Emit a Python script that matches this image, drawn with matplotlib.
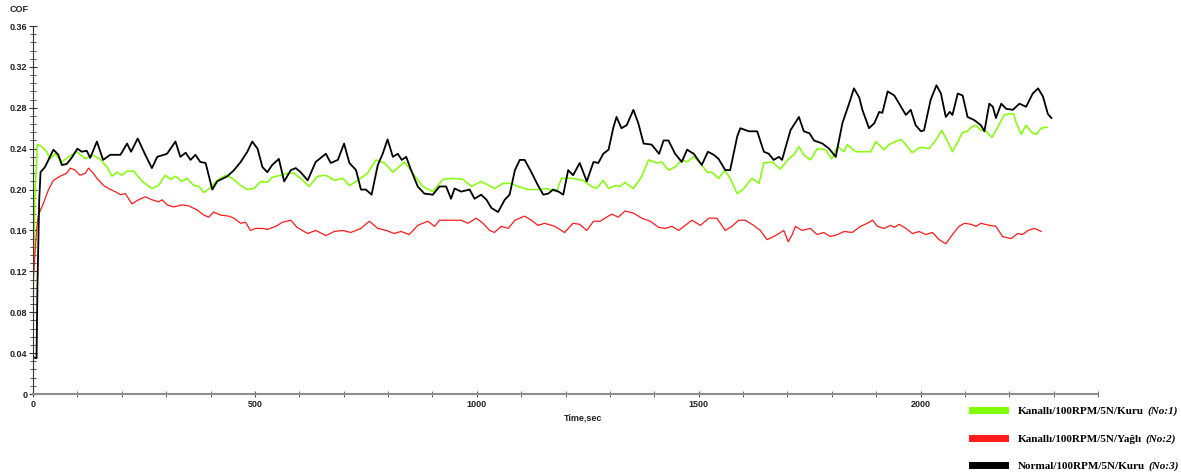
import numpy as np
from matplotlib import pyplot as plt
from matplotlib.ticker import MultipleLocator, FuncFormatter

# values (time in sec, friction coefficient)
t_green = [0, 4, 10, 20, 31, 38, 50, 65, 80, 99, 118, 133, 151, 167, 178, 189, 200, 212, 227,
           246, 268, 283, 298, 310, 321, 336, 347, 362, 374, 385, 400, 415, 434, 449, 468, 483,
           498, 513, 528, 539, 558, 573, 588, 603, 622, 641, 660, 679, 698, 713, 732, 754, 773,
           792, 811, 837, 856, 878, 901, 924, 946, 969, 988, 1010, 1040, 1059, 1078, 1093, 1116,
           1138, 1157, 1180, 1191, 1214, 1240, 1255, 1270, 1285, 1297, 1312, 1323, 1334, 1353,
           1372, 1387, 1406, 1417, 1432, 1447, 1462, 1474, 1489, 1504, 1519, 1530, 1545, 1559,
           1571, 1587, 1602, 1620, 1636, 1647, 1666, 1684, 1703, 1715, 1726, 1737, 1752, 1767,
           1786, 1800, 1813, 1828, 1835, 1854, 1869, 1888, 1899, 1918, 1929, 1944, 1956, 1967,
           1981, 1997, 2008, 2019, 2034, 2048, 2061, 2072, 2084, 2095, 2106, 2114, 2125, 2136,
           2148, 2161, 2174, 2189, 2201, 2210, 2216, 2227, 2238, 2250, 2261, 2272, 2285]
cof_green = [0.076, 0.193, 0.244, 0.242, 0.237, 0.230, 0.235, 0.227, 0.232, 0.237, 0.230, 0.234,
             0.230, 0.222, 0.213, 0.217, 0.214, 0.218, 0.218, 0.208, 0.201, 0.204, 0.214, 0.210,
             0.213, 0.208, 0.211, 0.204, 0.203, 0.197, 0.202, 0.209, 0.214, 0.211, 0.204, 0.200,
             0.201, 0.208, 0.207, 0.212, 0.214, 0.216, 0.216, 0.211, 0.203, 0.213, 0.214, 0.209,
             0.211, 0.204, 0.209, 0.216, 0.229, 0.226, 0.217, 0.227, 0.216, 0.203, 0.198, 0.210,
             0.211, 0.210, 0.203, 0.208, 0.201, 0.206, 0.206, 0.203, 0.200, 0.200, 0.201, 0.198,
             0.211, 0.211, 0.209, 0.204, 0.201, 0.209, 0.201, 0.204, 0.203, 0.207, 0.201, 0.213,
             0.229, 0.226, 0.227, 0.219, 0.222, 0.229, 0.227, 0.232, 0.226, 0.217, 0.217, 0.211,
             0.219, 0.211, 0.196, 0.201, 0.211, 0.206, 0.226, 0.227, 0.220, 0.230, 0.234, 0.242,
             0.234, 0.229, 0.240, 0.239, 0.230, 0.242, 0.237, 0.244, 0.237, 0.237, 0.237, 0.247,
             0.239, 0.244, 0.247, 0.249, 0.244, 0.236, 0.241, 0.241, 0.240, 0.248, 0.258, 0.247,
             0.237, 0.247, 0.256, 0.257, 0.261, 0.263, 0.258, 0.257, 0.251, 0.261, 0.273, 0.274,
             0.274, 0.265, 0.254, 0.263, 0.256, 0.254, 0.260, 0.261]

t_red = [0, 4, 8, 12, 23, 35, 46, 61, 76, 84, 95, 106, 118, 125, 136, 144, 159, 170, 185, 197,
         208, 223, 238, 253, 268, 283, 291, 302, 317, 336, 351, 370, 385, 396, 407, 423, 441, 453,
         468, 479, 490, 502, 517, 528, 547, 562, 581, 595, 619, 637, 660, 679, 698, 716, 739, 758,
         777, 796, 814, 829, 848, 867, 890, 905, 916, 942, 965, 980, 999, 1014, 1029, 1040, 1055,
         1071, 1086, 1108, 1123, 1138, 1153, 1176, 1198, 1217, 1232, 1248, 1263, 1278, 1289, 1304,
         1319, 1334, 1353, 1372, 1391, 1410, 1425, 1440, 1455, 1470, 1485, 1504, 1523, 1541, 1560,
         1575, 1590, 1605, 1624, 1639, 1654, 1669, 1681, 1692, 1702, 1711, 1718, 1733, 1752, 1767,
         1782, 1797, 1813, 1828, 1846, 1865, 1880, 1892, 1903, 1918, 1933, 1941, 1952, 1967, 1982,
         1997, 2012, 2027, 2042, 2057, 2072, 2087, 2099, 2114, 2125, 2136, 2155, 2170, 2185, 2204,
         2219, 2230, 2242, 2257, 2272]
cof_red = [0.108, 0.134, 0.160, 0.175, 0.186, 0.200, 0.209, 0.213, 0.216, 0.221, 0.219, 0.214,
           0.216, 0.221, 0.216, 0.211, 0.204, 0.201, 0.198, 0.195, 0.196, 0.186, 0.190, 0.193,
           0.190, 0.188, 0.190, 0.185, 0.183, 0.185, 0.184, 0.180, 0.175, 0.173, 0.178, 0.175,
           0.174, 0.172, 0.167, 0.168, 0.160, 0.162, 0.162, 0.161, 0.164, 0.168, 0.170, 0.163,
           0.157, 0.160, 0.155, 0.159, 0.160, 0.158, 0.162, 0.169, 0.162, 0.160, 0.157, 0.159,
           0.156, 0.165, 0.169, 0.164, 0.170, 0.170, 0.170, 0.167, 0.172, 0.167, 0.160, 0.158,
           0.164, 0.162, 0.170, 0.174, 0.170, 0.165, 0.167, 0.164, 0.158, 0.167, 0.166, 0.160,
           0.169, 0.169, 0.172, 0.176, 0.173, 0.179, 0.177, 0.172, 0.169, 0.163, 0.162, 0.164,
           0.160, 0.165, 0.170, 0.165, 0.172, 0.172, 0.160, 0.164, 0.170, 0.170, 0.165, 0.160,
           0.151, 0.154, 0.157, 0.160, 0.149, 0.156, 0.164, 0.160, 0.162, 0.156, 0.158, 0.154,
           0.156, 0.159, 0.158, 0.164, 0.167, 0.170, 0.164, 0.162, 0.165, 0.163, 0.166, 0.162,
           0.157, 0.159, 0.156, 0.158, 0.151, 0.147, 0.156, 0.164, 0.167, 0.166, 0.164, 0.167,
           0.165, 0.164, 0.154, 0.152, 0.157, 0.156, 0.160, 0.162, 0.159]

t_black = [0, 8, 10, 14, 17, 27, 46, 57, 65, 76, 87, 100, 110, 121, 129, 144, 158, 174, 197,
           212, 221, 236, 253, 268, 280, 302, 321, 332, 344, 355, 366, 377, 389, 404, 415, 438,
           453, 468, 483, 494, 506, 517, 528, 539, 554, 566, 581, 592, 603, 619, 637, 660, 671,
           687, 701, 713, 728, 739, 750, 763, 777, 788, 799, 811, 822, 831, 841, 852, 867, 882,
           901, 916, 931, 942, 950, 965, 984, 995, 1010, 1022, 1033, 1048, 1063, 1074, 1086, 1097,
           1108, 1123, 1138, 1150, 1161, 1172, 1184, 1195, 1206, 1217, 1232, 1248, 1263, 1274,
           1285, 1297, 1308, 1315, 1326, 1338, 1353, 1364, 1376, 1394, 1411, 1421, 1432, 1447,
           1462, 1474, 1489, 1507, 1521, 1534, 1545, 1560, 1571, 1587, 1594, 1613, 1632, 1647,
           1658, 1669, 1681, 1688, 1707, 1726, 1737, 1750, 1760, 1779, 1794, 1809, 1824, 1839,
           1850, 1862, 1869, 1884, 1896, 1907, 1914, 1926, 1941, 1956, 1967, 1978, 1989, 2001,
           2008, 2023, 2036, 2046, 2057, 2066, 2072, 2084, 2095, 2106, 2121, 2136, 2144, 2155,
           2163, 2170, 2182, 2193, 2208, 2223, 2238, 2253, 2265, 2276, 2287, 2295]
cof_black = [0.036, 0.035, 0.105, 0.190, 0.217, 0.222, 0.239, 0.234, 0.224, 0.225, 0.231, 0.240,
             0.237, 0.238, 0.231, 0.247, 0.229, 0.234, 0.234, 0.245, 0.237, 0.250, 0.234, 0.221,
             0.232, 0.235, 0.247, 0.232, 0.236, 0.229, 0.234, 0.227, 0.226, 0.200, 0.208, 0.213,
             0.219, 0.227, 0.237, 0.247, 0.240, 0.222, 0.217, 0.224, 0.230, 0.208, 0.219, 0.221,
             0.217, 0.209, 0.227, 0.235, 0.226, 0.229, 0.245, 0.226, 0.219, 0.200, 0.200, 0.195,
             0.224, 0.235, 0.249, 0.232, 0.235, 0.229, 0.232, 0.219, 0.203, 0.196, 0.195, 0.203,
             0.203, 0.191, 0.201, 0.198, 0.200, 0.191, 0.195, 0.190, 0.182, 0.178, 0.190, 0.195,
             0.219, 0.229, 0.229, 0.217, 0.204, 0.195, 0.196, 0.200, 0.198, 0.195, 0.219, 0.214,
             0.226, 0.208, 0.227, 0.226, 0.235, 0.239, 0.261, 0.271, 0.260, 0.263, 0.278, 0.265,
             0.245, 0.244, 0.235, 0.248, 0.248, 0.235, 0.227, 0.239, 0.235, 0.224, 0.237, 0.234,
             0.230, 0.219, 0.219, 0.252, 0.260, 0.257, 0.257, 0.237, 0.235, 0.229, 0.232, 0.229,
             0.258, 0.271, 0.257, 0.255, 0.248, 0.245, 0.240, 0.232, 0.265, 0.284, 0.299, 0.290,
             0.278, 0.260, 0.265, 0.276, 0.275, 0.296, 0.292, 0.281, 0.273, 0.278, 0.263, 0.257,
             0.258, 0.288, 0.302, 0.294, 0.271, 0.276, 0.273, 0.294, 0.292, 0.271, 0.268, 0.263,
             0.257, 0.284, 0.281, 0.270, 0.284, 0.279, 0.278, 0.284, 0.281, 0.294, 0.299, 0.291,
             0.274, 0.270]

labels = ["Kanallı/100RPM/5N/Kuru", "Kanallı/100RPM/5N/Yağlı", "Normal/100RPM/5N/Kuru"]
run_no = ["(No:1)", "(No:2)", "(No:3)"]
colors = ["#80ff00", "#ff1a1a", "#000000"]

fig = plt.figure(figsize=(11.81, 4.75), dpi=100)
ax = fig.add_axes([33 / 1181, 1 - 394 / 475, (1098 - 33) / 1181, (394 - 26) / 475])

l1, = ax.plot(t_green, cof_green, color=colors[0], lw=1.1)
l2, = ax.plot(t_red, cof_red, color=colors[1], lw=0.9)
l3, = ax.plot(t_black, cof_black, color=colors[2], lw=1.3)

ax.set_xlim(0, 2400)
ax.set_ylim(0, 0.36)
ax.xaxis.set_major_locator(MultipleLocator(500))
ax.xaxis.set_minor_locator(MultipleLocator(100))
ax.yaxis.set_major_locator(MultipleLocator(0.04))
ax.yaxis.set_minor_locator(MultipleLocator(0.008))
ax.yaxis.set_major_formatter(FuncFormatter(lambda v, p: "0" if abs(v) < 1e-9 else f"{v:.2f}"))

for s in ["top", "right"]:
    ax.spines[s].set_visible(False)
ax.spines["bottom"].set_color("#8c8c8c")
ax.spines["bottom"].set_linewidth(1.5)
ax.spines["left"].set_color("#333333")

tickfont = {"family": "Liberation Sans", "weight": "bold", "size": 6.5}
ax.tick_params(axis="y", which="both", direction="inout", colors="#333333", labelsize=6.5, pad=1)
ax.tick_params(axis="y", which="major", length=6)
ax.tick_params(axis="y", which="minor", length=4)
ax.tick_params(axis="x", which="both", direction="inout", color="#555555", labelsize=6.5, pad=2)
ax.tick_params(axis="x", which="major", length=5)
ax.tick_params(axis="x", which="minor", length=4)
for lab in ax.get_xticklabels() + ax.get_yticklabels():
    lab.set_fontproperties(tickfont)
    lab.set_color("#222222")

ax.set_xlabel("Time,sec", fontdict=tickfont, color="#222222")
ax.xaxis.set_label_coords((583 - 33) / 1065, -0.052)
fig.text(10 / 1181, 1 - 10 / 475, "COF", ha="left", va="center", **tickfont, color="#222222")

leg = fig.legend([l1, l2, l3], labels, loc="upper left", bbox_to_anchor=(972 / 1181, 1 - 406 / 475),
                 frameon=False, borderpad=0, borderaxespad=0, handlelength=3.0, handletextpad=1.1,
                 labelspacing=1.62, prop={"family": "Liberation Serif", "weight": "bold", "size": 8})
for h in leg.legend_handles:
    h.set_linewidth(5)

# italic run numbers placed right after each legend label
fig.canvas.draw()
inv = fig.transFigure.inverted()
for txt, no in zip(leg.get_texts(), run_no):
    bb = txt.get_window_extent()
    x0, y0 = inv.transform((bb.x1 + 4, bb.y0))
    fig.text(x0, y0, no, ha="left", va="bottom", family="Liberation Serif", weight="bold",
             style="italic", size=8)

fig.savefig("out.png", dpi=100)
